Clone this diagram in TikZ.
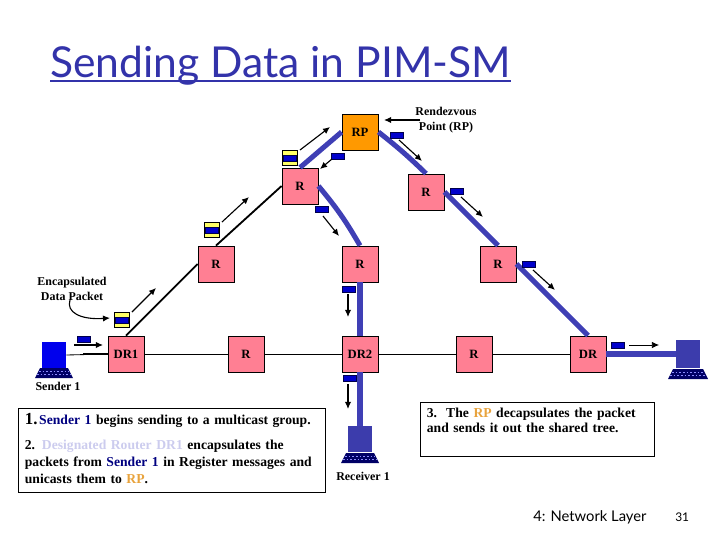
\documentclass[tikz,border=0pt]{standalone}
\usepackage{fontspec}
\setmainfont{Liberation Serif}
\newfontfamily\titlefont{Lato}
\usetikzlibrary{arrows.meta}

\definecolor{routerpink}{HTML}{FF7F93}
\definecolor{rporange}{HTML}{FF9900}
\definecolor{treeblue}{HTML}{3F3FB5}
\definecolor{packetblue}{HTML}{0000CC}
\definecolor{wrapyellow}{HTML}{FFFF66}
\definecolor{titleblue}{HTML}{3333AA}
\definecolor{sendernavy}{HTML}{000080}
\definecolor{drpale}{HTML}{CCCCEE}
\definecolor{rptext}{HTML}{E8A33D}

\tikzset{
  router/.style={draw=black, line width=0.6pt, fill=routerpink, minimum size=0.9cm, inner sep=0pt, font=\fontsize{9}{10}\selectfont\bfseries},
  rpbox/.style={router, fill=rporange},
  tree/.style={treeblue, line width=3.6pt},
  wire/.style={black, line width=0.6pt},
  wirethick/.style={black, line width=1.3pt},
  flow/.style={black, line width=0.8pt, -{Latex[length=5pt,width=4.5pt]}},
  packet/.style={draw=black!70!blue, line width=0.3pt, fill=packetblue, minimum width=0.32cm, minimum height=0.15cm, inner sep=0pt},
  wrapped/.style={draw=black, line width=0.3pt, fill=wrapyellow, minimum size=0.375cm, inner sep=0pt},
  label/.style={font=\fontsize{8.5}{10.7}\selectfont\bfseries, align=center, inner sep=0pt},
  textbox/.style={draw=black, line width=0.7pt, anchor=north west, align=left, inner xsep=0.16cm, font=\fontsize{9.7}{11.2}\selectfont\bfseries},
  monitor/.style={draw=none, inner sep=0pt, minimum width=0.6cm},
}
% keyboard under a monitor: centre x, top y, half width
\newcommand{\keybrd}[3]{
  \fill[black!60!blue] (#1-#3+5, #2) -- (#1+#3-5, #2) -- (#1+#3, #2+10) -- (#1-#3, #2+10) -- cycle;
  \draw[white!55!blue, line width=0.4pt, dash pattern=on 1.2pt off 1.4pt] (#1-#3+4, #2+3.3) -- (#1+#3-4, #2+3.3);
  \draw[white!55!blue, line width=0.4pt, dash pattern=on 1.2pt off 1.4pt] (#1-#3+2, #2+6.6) -- (#1+#3-2, #2+6.6);
}

\begin{document}
\begin{tikzpicture}[x=0.025cm, y=-0.025cm]
  \useasboundingbox (0, 0) rectangle (720, 540);

  % title
  \node[anchor=base west, inner sep=0pt, titleblue, font=\titlefont\fontsize{30.3}{32}\selectfont] (title) at (50, 77) {Sending Data in PIM-SM};
  \draw[titleblue, line width=2pt] ([yshift=-2.9pt]title.base west) -- ([yshift=-2.9pt]title.base east);

  % routers
  \node[rpbox] (rp) at (360, 132) {RP};
  \node[router] (rtopl) at (300, 186) {R};
  \node[router] (rtopr) at (426, 192) {R};
  \node[router] (rleft) at (216, 264) {R};
  \node[router] (rmid) at (360, 264) {R};
  \node[router] (rright) at (498, 264) {R};
  \node[router] (dra) at (126, 354) {DR1};
  \node[router] (rlow) at (246, 354) {R};
  \node[router] (drb) at (360, 354) {DR2};
  \node[router] (rlowr) at (474, 354) {R};
  \node[router] (drc) at (588, 354) {DR};

  % hosts
  \node[monitor, minimum height=0.65cm, fill=blue!93!black] (sender) at (54, 355) {};
  \node[monitor, minimum height=0.65cm, fill=treeblue!95!black] (receiver) at (360, 439) {};
  \node[monitor, minimum height=0.7cm, fill=treeblue!95!black] (host) at (688, 354) {};
  \keybrd{54}{368}{19}
  \keybrd{360}{453}{19}
  \keybrd{688}{369}{20}

  % plain links
  \coordinate (senderjoin) at (83, 354);
  \draw[wire] (sender.east) -- (dra.west);
  \draw[wirethick] (senderjoin) -- (dra.west);
  \draw[wire] (dra.east) -- (rlow.west);
  \draw[wire] (rlow.east) -- (drb.west);
  \draw[wire] (drb.east) -- (rlowr.west);
  \draw[wire] (rlowr.east) -- (drc.west);
  \draw[wirethick] (dra.north) -- (rleft.west);
  \draw[wirethick] (rleft.north) -- (rtopl.west);

  % shared tree
  \draw[tree] (rtopl.north) -- (rp.west);
  \draw[tree] (rp.east) to[bend left=3] (rtopr.north);
  \draw[tree] (rtopl.east) to[bend left=5] (rmid.north);
  \draw[tree] (rtopr.east) -- (rright.north);
  \draw[tree] (rright.east) -- (drc.north);
  \draw[tree] (rmid.south) -- (drb.north);
  \draw[tree] (drb.south) -- (receiver.north);
  \draw[tree] (drc.east) -- (host.west);

  % packets
  \node[wrapped] (wrapa) at (122, 320) {};
  \node[wrapped] (wrapb) at (212, 230) {};
  \node[wrapped] (wrapc) at (290, 158) {};
  \node[packet] (pkta) at (122, 320) {};
  \node[packet] (pktb) at (212, 230) {};
  \node[packet] (pktc) at (290, 158) {};
  \node[packet] (pktd) at (84, 339) {};
  \node[packet] (pkte) at (397, 135) {};
  \node[packet] (pktf) at (338, 156) {};
  \node[packet] (pktg) at (457, 191) {};
  \node[packet] (pkth) at (322, 209) {};
  \node[packet] (pkti) at (529, 264) {};
  \node[packet] (pktj) at (349, 289) {};
  \node[packet] (pktk) at (350, 378) {};
  \node[packet] (pktl) at (618, 345) {};

  % movement arrows
  \coordinate (a1s) at (74, 345);   \coordinate (a1e) at (103, 345);
  \coordinate (a2s) at (132, 312);  \coordinate (a2e) at (156, 288);
  \coordinate (a3s) at (222, 222);  \coordinate (a3e) at (249, 197);
  \coordinate (a4s) at (300, 150);  \coordinate (a4e) at (330, 127);
  \coordinate (a5s) at (399, 140);  \coordinate (a5e) at (422, 161);
  \coordinate (a6s) at (332, 159);  \coordinate (a6e) at (320, 169);
  \coordinate (a7s) at (461, 197);  \coordinate (a7e) at (483, 217);
  \coordinate (a8s) at (323, 216);  \coordinate (a8e) at (339, 236);
  \coordinate (a9s) at (533, 270);  \coordinate (a9e) at (555, 290);
  \coordinate (a10s) at (348, 294); \coordinate (a10e) at (348, 317);
  \coordinate (a11s) at (348, 384); \coordinate (a11e) at (348, 409);
  \coordinate (a12s) at (629, 345); \coordinate (a12e) at (659, 345);
  \coordinate (a13s) at (420, 120); \coordinate (a13e) at (384, 120);
  \coordinate (a14s) at (70, 300);  \coordinate (a14e) at (110, 318);
  \foreach \i in {1,...,11,13}
    \draw[flow] (a\i s) -- (a\i e);
  \draw[flow, line width=0.5pt] (a12s) -- (a12e);
  \draw[flow] (a14s) .. controls (66, 312) and (80, 320) .. (a14e);

  % labels
  \node[label] (rplabel) at (446, 120.5) {Rendezvous\\Point (RP)};
  \node[label] (encap) at (72, 288.5) {Encapsulated\\Data Packet};
  \node[label] (senderlabel) at (58, 386) {Sender 1};
  \node[label] (receiverlabel) at (363, 476) {Receiver 1};

  % text boxes
  \node[textbox, inner ysep=0.03cm, text width=7.36cm, minimum height=2.1cm] (stepa) at (18, 408) {%
    {\fontsize{12}{12}\selectfont 1.}\hspace{1.2pt}{\color{sendernavy}Sender 1} begins sending to a multicast group.\\[6pt]
    \baselineskip=12pt 2. {\color{drpale}Designated Router DR1} encapsulates the\\
    packets from {\color{sendernavy}Sender 1} in Register messages and\\
    unicasts them to {\color{rptext}RP}.\\[-8pt]\mbox{}};
  \node[textbox, inner ysep=0.02cm, text width=5.54cm, minimum height=1.35cm] (stepb) at (420, 402) {%
    3.\ \ The {\color{rptext}RP} decapsulates the packet\\
    and sends it out the shared tree.\\[2pt]\mbox{}};

  % footer
  \node[anchor=base west, inner sep=0pt, font=\titlefont\fontsize{10.5}{12}\selectfont] (chapter) at (533, 521) {4: Network Layer};
  \node[anchor=base west, inner sep=0pt, font=\titlefont\fontsize{8.5}{10}\selectfont] (pagenum) at (675, 521) {31};
\end{tikzpicture}
\end{document}
